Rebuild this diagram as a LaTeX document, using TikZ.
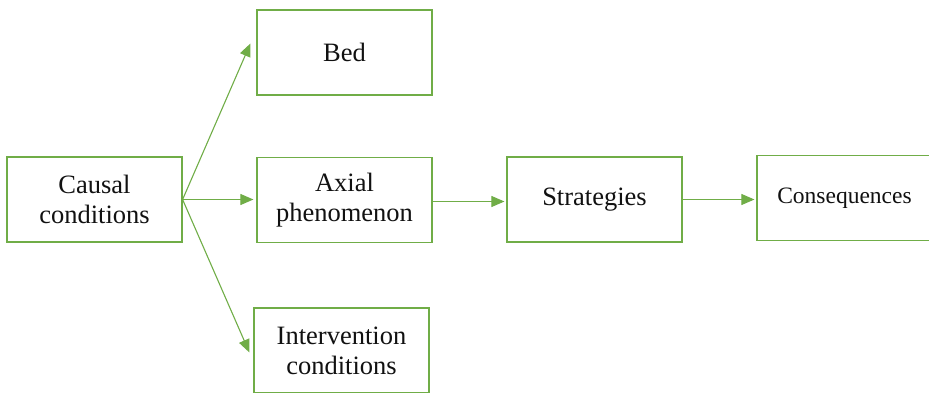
\documentclass[tikz,border=0pt]{standalone}
\usepackage{fontspec}
\setmainfont{Liberation Serif}
\usetikzlibrary{arrows.meta}
\definecolor{paradigmgreen}{HTML}{70AD47}
\definecolor{paradigmtext}{HTML}{111111}

\tikzset{
  stagebox/.style={draw=paradigmgreen, line width=1.2pt, minimum width=175pt, minimum height=85pt,
    align=center, text=paradigmtext, font=\fontsize{26.5}{30}\selectfont},
  flow/.style={draw=paradigmgreen, line width=1.1pt, -{Triangle[length=13pt,width=11pt]}}
}

\begin{document}
\begin{tikzpicture}[x=1pt,y=-1pt]
\useasboundingbox (0,0) rectangle (929,393);
\node[stagebox] (causal) at (94.5,199.5) {Causal\\conditions};
\node[stagebox] (bed) at (344.5,52.5) {Bed};
\node[stagebox] (axial) at (344.5,200) {Axial\\phenomenon};
\node[stagebox] (interv) at (341.5,350.5) {Intervention\\conditions};
\node[stagebox] (strat) at (594.5,199.5) {Strategies};
\node[stagebox, font=\fontsize{23.5}{28}\selectfont] (conseq) at (844.5,198) {Consequences};

\draw[flow] (causal.east) -- ([xshift=-6pt,yshift=9pt]bed.west);
\draw[flow, shorten >=3pt] (causal.east) -- (causal.east -| axial.west);
\draw[flow] (causal.east) -- ([xshift=-4pt,yshift=-2pt]interv.west);
\draw[flow, shorten >=2pt] ([yshift=-1.5pt]axial.east) -- ([yshift=-1.5pt]axial.east -| strat.west);
\draw[flow, shorten >=2pt] (strat.east) -- (strat.east -| conseq.west);
\end{tikzpicture}
\end{document}
